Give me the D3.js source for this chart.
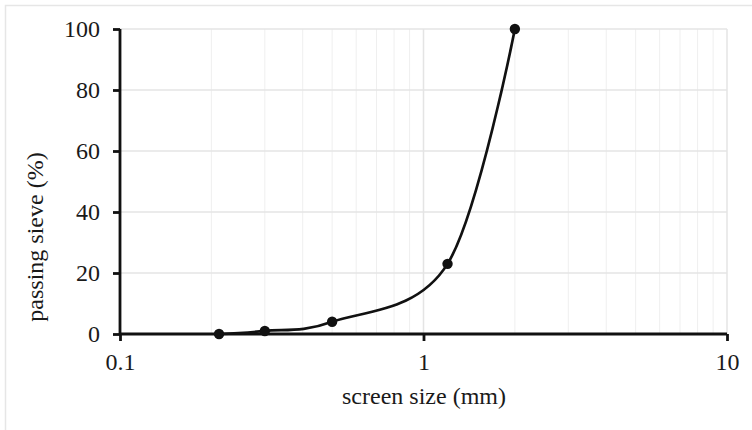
<!DOCTYPE html>
<html>
<head>
<meta charset="utf-8">
<script src="https://cdn.jsdelivr.net/npm/d3@7"></script>
<style>
  html, body { margin: 0; padding: 0; background: #fff; }
  svg { display: block; }
  text { font-family: "Liberation Serif", "Times New Roman", serif; fill: #1a1a1a; }
</style>
</head>
<body>
<svg id="chart" width="752" height="430"></svg>
<script>
// Sieve analysis: cumulative passing per screen size
const sieveSizes = [0.212, 0.3, 0.5, 1.2, 2];
const passingPct = [0, 1, 4, 23, 100];
const xTickValues = [0.1, 1, 10];
const yTickValues = [0, 20, 40, 60, 80, 100];
const xTitle = "screen size (mm)";
const yTitle = "passing sieve (%)";

const svg = d3.select("#chart");
const W = 752, H = 430;
const plot = { left: 120, right: 727, top: 29, bottom: 334 };
const FONT = 24;

// outer frame (top and left edges)
svg.append("rect")
  .attr("x", 5.5).attr("y", 5.5)
  .attr("width", W + 10).attr("height", H + 10)
  .attr("fill", "none").attr("stroke", "#e6e6e6").attr("stroke-width", 1.5);

const x = d3.scaleLog().domain([0.1, 10]).range([plot.left, plot.right]);
const y = d3.scaleLinear().domain([0, 100]).range([plot.bottom, plot.top]);

// minor vertical gridlines
const minor = [];
for (let dec = 0.1; dec < 10; dec *= 10) {
  for (let m = 2; m <= 9; m++) minor.push(+(dec * m).toPrecision(3));
}
svg.append("g").selectAll("line").data(minor).join("line")
  .attr("x1", d => x(d)).attr("x2", d => x(d))
  .attr("y1", plot.top).attr("y2", plot.bottom)
  .attr("stroke", "#efefef").attr("stroke-width", 1);

// major vertical gridlines
svg.append("g").selectAll("line").data(xTickValues.slice(1)).join("line")
  .attr("x1", d => x(d)).attr("x2", d => x(d))
  .attr("y1", plot.top).attr("y2", plot.bottom)
  .attr("stroke", "#e4e4e4").attr("stroke-width", 1.5);

// horizontal gridlines
svg.append("g").selectAll("line").data(yTickValues.slice(1)).join("line")
  .attr("x1", plot.left).attr("x2", plot.right)
  .attr("y1", d => y(d)).attr("y2", d => y(d))
  .attr("stroke", "#e4e4e4").attr("stroke-width", 1.5);

// axes
const yAxis = d3.axisLeft(y).tickValues(yTickValues).tickSize(7).tickPadding(13)
  .tickFormat(d3.format("d"));
const gy = svg.append("g").attr("transform", `translate(${plot.left},0)`).call(yAxis);
const xAxis = d3.axisBottom(x).tickValues(xTickValues).tickSize(7).tickPadding(12)
  .tickFormat(d => String(d));
const gx = svg.append("g").attr("transform", `translate(0,${plot.bottom})`).call(xAxis);

[gx, gy].forEach(g => {
  g.select(".domain").attr("stroke", "#111").attr("stroke-width", 2.8);
  g.selectAll(".tick line").attr("stroke", "#111").attr("stroke-width", 2.8);
  g.selectAll(".tick text")
    .attr("font-family", "'Liberation Serif', 'Times New Roman', serif")
    .attr("font-size", FONT).attr("fill", "#1a1a1a");
});
gy.select(".domain").attr("d", `M0,${plot.bottom}V${plot.top}`);
gx.select(".domain").attr("d", `M${plot.left},0H${plot.right}`);

// axis titles
svg.append("text")
  .attr("x", 424).attr("y", 404)
  .attr("text-anchor", "middle").attr("font-size", FONT)
  .text(xTitle);
svg.append("text")
  .attr("transform", "translate(43,237) rotate(-90)")
  .attr("text-anchor", "middle").attr("font-size", FONT)
  .text(yTitle);

// smoothed gradation curve
const pts = sieveSizes.map((s, i) => [s, passingPct[i]]);
const line = d3.line()
  .x(d => x(d[0])).y(d => y(d[1]))
  .curve(d3.curveCardinal.tension(0));
svg.append("path").datum(pts)
  .attr("d", line)
  .attr("fill", "none").attr("stroke", "#111").attr("stroke-width", 2.7);

// data points
svg.append("g").selectAll("circle").data(pts).join("circle")
  .attr("cx", d => x(d[0])).attr("cy", d => y(d[1]))
  .attr("r", 5.2).attr("fill", "#111");
</script>
</body>
</html>
